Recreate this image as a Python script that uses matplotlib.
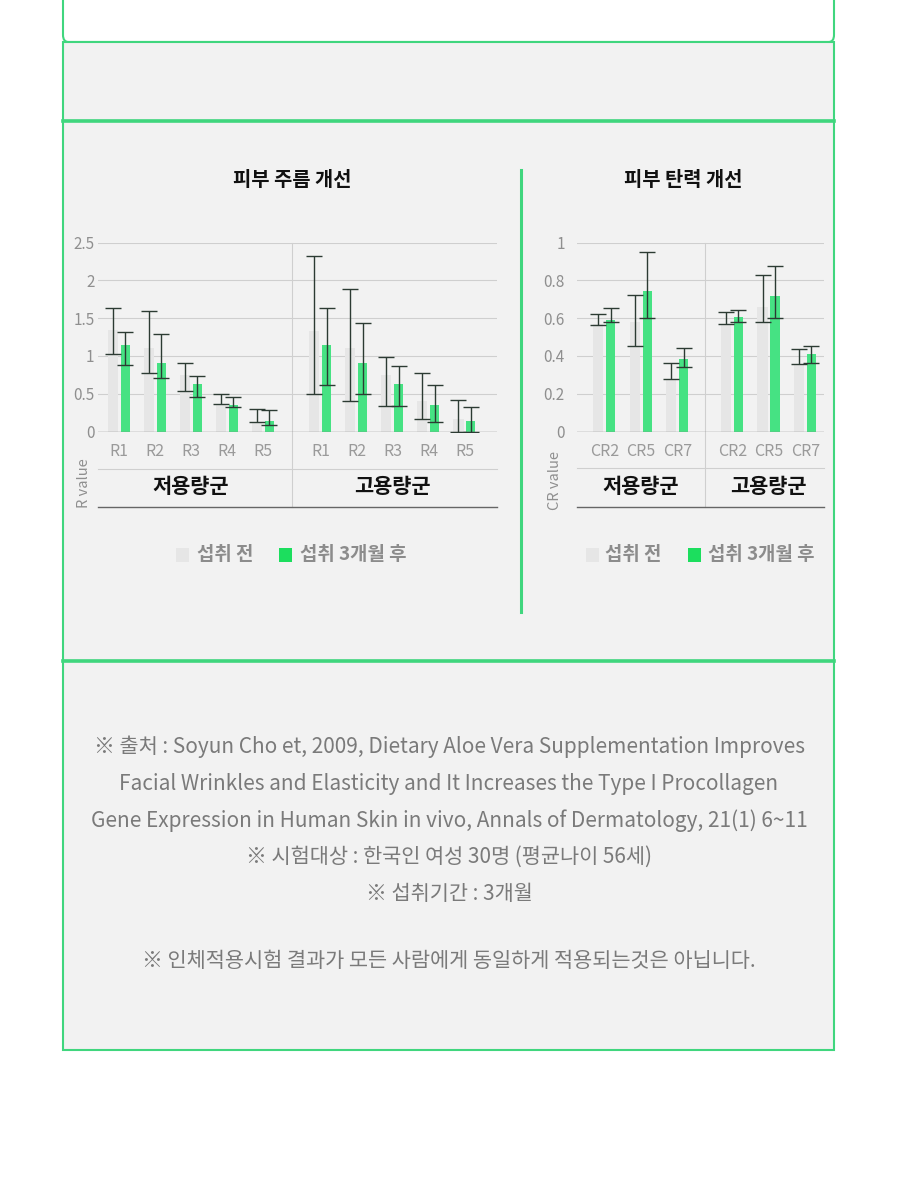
import matplotlib
matplotlib.use("Agg")
import matplotlib.pyplot as plt
from matplotlib.patches import Rectangle, FancyBboxPatch
from matplotlib.lines import Line2D
from matplotlib.transforms import blended_transform_factory
import numpy as np

plt.rcParams['font.family'] = ['Noto Sans CJK KR', 'DejaVu Sans']

# ---------------- data ----------------
wrinkle_cats = ['R1', 'R2', 'R3', 'R4', 'R5']
elastic_cats = ['CR2', 'CR5', 'CR7']
groups = ['저용량군', '고용량군']
legend_labels = ['섭취 전', '섭취 3개월 후']

# wrinkle (R value) - low dose
wr_low_before = [1.34, 1.10, 0.75, 0.37, 0.12]
wr_low_before_lo = [1.03, 0.78, 0.54, 0.36, 0.12]
wr_low_before_hi = [1.64, 1.59, 0.90, 0.50, 0.30]
wr_low_after = [1.15, 0.91, 0.63, 0.35, 0.14]
wr_low_after_lo = [0.88, 0.71, 0.45, 0.32, 0.08]
wr_low_after_hi = [1.32, 1.29, 0.74, 0.45, 0.28]
# wrinkle - high dose
wr_high_before = [1.33, 1.10, 0.75, 0.41, 0.17]
wr_high_before_lo = [0.50, 0.41, 0.34, 0.17, 0.00]
wr_high_before_hi = [2.32, 1.89, 0.99, 0.77, 0.42]
wr_high_after = [1.14, 0.90, 0.63, 0.35, 0.14]
wr_high_after_lo = [0.62, 0.50, 0.34, 0.13, 0.00]
wr_high_after_hi = [1.63, 1.43, 0.86, 0.61, 0.33]

# elasticity (CR value) - low dose
el_low_before = [0.57, 0.58, 0.28]
el_low_before_lo = [0.563, 0.45, 0.29]
el_low_before_hi = [0.62, 0.72, 0.365]
el_low_after = [0.59, 0.745, 0.385]
el_low_after_lo = [0.577, 0.598, 0.339]
el_low_after_hi = [0.656, 0.952, 0.443]
# elasticity - high dose
el_high_before = [0.57, 0.66, 0.355]
el_high_before_lo = [0.571, 0.582, 0.355]
el_high_before_hi = [0.63, 0.83, 0.437]
el_high_after = [0.607, 0.716, 0.409]
el_high_after_lo = [0.582, 0.603, 0.365]
el_high_after_hi = [0.644, 0.877, 0.455]

wr_yticks = [0, 0.5, 1, 1.5, 2, 2.5]
wr_yticklabels = ['0', '0.5', '1', '1.5', '2', '2.5']
el_yticks = [0, 0.2, 0.4, 0.6, 0.8, 1]
el_yticklabels = ['0', '0.2', '0.4', '0.6', '0.8', '1']

notes = [
    '※ 출처 : Soyun Cho et, 2009, Dietary Aloe Vera Supplementation Improves',
    'Facial Wrinkles and Elasticity and It Increases the Type I Procollagen',
    'Gene Expression in Human Skin in vivo, Annals of Dermatology, 21(1) 6~11',
    '※ 시험대상 : 한국인 여성 30명 (평균나이 56세)',
    '※ 섭취기간 : 3개월',
    '※ 인체적용시험 결과가 모든 사람에게 동일하게 적용되는것은 아닙니다.',
]

# ---------------- style ----------------
W, H = 900, 1183
GREEN_BORDER = '#40d67e'
BAR_GREEN = '#46e283'
LEG_GREEN = '#1cde5e'
BAR_GRAY = '#e6e6e6'
PANEL = '#f2f2f2'
ERR = '#2c3b33'
GRID = '#cfcfcf'
TICK = '#8f8f8f'

fig = plt.figure(figsize=(W / 100, H / 100), dpi=100)
fig.patch.set_facecolor('white')


def fx(x):
    return x / W


def fy(y):
    return 1 - y / H


def frect(x0, y0, x1, y1, **kw):
    r = Rectangle((fx(x0), fy(y1)), fx(x1) - fx(x0), fy(y0) - fy(y1),
                  transform=fig.transFigure, **kw)
    fig.add_artist(r)


def fline(x0, y0, x1, y1, **kw):
    fig.add_artist(Line2D([fx(x0), fx(x1)], [fy(y0), fy(y1)],
                          transform=fig.transFigure, **kw))


# panels
top = FancyBboxPatch((fx(63), fy(42)), fx(834) - fx(63), fy(-30) - fy(42),
                     boxstyle='round,pad=0,rounding_size=0.006', transform=fig.transFigure,
                     facecolor='white', edgecolor=GREEN_BORDER, lw=1.5, zorder=0)
fig.add_artist(top)
frect(63, 42, 834, 121, facecolor=PANEL, edgecolor=GREEN_BORDER, lw=1.5, zorder=0)
frect(63, 121, 834, 661, facecolor=PANEL, edgecolor=GREEN_BORDER, lw=1.5, zorder=0)
frect(63, 661, 834, 1050, facecolor=PANEL, edgecolor=GREEN_BORDER, lw=1.5, zorder=0)
fline(63, 121, 834, 121, color=GREEN_BORDER, lw=2.6)
fline(63, 661, 834, 661, color=GREEN_BORDER, lw=2.6)
# divider between charts
fline(521, 170, 521, 612, color=GREEN_BORDER, lw=2.2)


def draw_chart(ax, cats, pos_low, pos_high, data_low, data_high, xlim, ylim,
               yticks, yticklabels, ypad, divider_x, cat_y, mid_y, group_y, bottom_y):
    ax.set_facecolor('none')
    for s in ax.spines.values():
        s.set_visible(False)
    ax.set_xlim(*xlim)
    ax.set_ylim(*ylim)
    ax.set_yticks(yticks)
    ax.set_yticklabels(yticklabels)
    ax.tick_params(axis='y', length=0, pad=ypad, labelcolor=TICK, labelsize=11)
    ax.set_xticks([])
    for t in yticks[1:]:
        ax.axhline(t, color=GRID, lw=0.8, zorder=0)
    ax.axhline(0, color='#8a8a8a', lw=1.0, zorder=3)

    bw_g, bw_c, off = 0.28, 0.25, 0.17
    for positions, (before, blo, bhi, after, alo, ahi) in ((pos_low, data_low), (pos_high, data_high)):
        p = np.array(positions, dtype=float)
        before = np.array(before); after = np.array(after)
        ax.bar(p - off, before, width=bw_g, color=BAR_GRAY, zorder=1)
        ax.bar(p + off, after, width=bw_c, color=BAR_GREEN, zorder=2)
        eb = np.array([before - np.array(blo), np.array(bhi) - before])
        ea = np.array([after - np.array(alo), np.array(ahi) - after])
        ax.errorbar(p - off, before, yerr=np.clip(eb, 0, None), fmt='none', ecolor=ERR,
                    elinewidth=1, capsize=6, capthick=1, zorder=4)
        ax.errorbar(p + off, after, yerr=np.clip(ea, 0, None), fmt='none', ecolor=ERR,
                    elinewidth=1, capsize=6, capthick=1, zorder=4)
        for x, c in zip(p, cats):
            ax.text(x, cat_y, c, ha='center', va='center', fontsize=11.5, color='#9a9a9a')

    tr = blended_transform_factory(ax.transAxes, ax.transData)
    ax.plot([0, 1], [mid_y, mid_y], transform=tr, color=GRID, lw=0.8, clip_on=False)
    ax.plot([0, 1], [bottom_y, bottom_y], transform=tr, color='#666666', lw=1.0, clip_on=False)
    ax.plot([divider_x, divider_x], [bottom_y, ylim[1]], color=GRID, lw=0.8, clip_on=False, zorder=0)
    ax.text(np.mean(pos_low), group_y, groups[0], ha='center', va='center',
            fontsize=15, fontweight='bold', color='#111111')
    ax.text(np.mean(pos_high), group_y, groups[1], ha='center', va='center',
            fontsize=15, fontweight='bold', color='#111111')


# left chart: wrinkles
axL = fig.add_axes([fx(98), fy(431.5), fx(497) - fx(98), fy(242.5) - fy(431.5)])
draw_chart(axL, wrinkle_cats, [0, 1, 2, 3, 4], [5.6, 6.6, 7.6, 8.6, 9.6],
           (wr_low_before, wr_low_before_lo, wr_low_before_hi, wr_low_after, wr_low_after_lo, wr_low_after_hi),
           (wr_high_before, wr_high_before_lo, wr_high_before_hi, wr_high_after, wr_high_after_lo, wr_high_after_hi),
           (-0.58, 10.5), (0, 2.5), wr_yticks, wr_yticklabels, 2.5, 4.8,
           -0.26, -0.49, -0.73, -1.0)

# right chart: elasticity
axR = fig.add_axes([fx(576.5), fy(431.5), fx(823.5) - fx(576.5), fy(242.5) - fy(431.5)])
draw_chart(axR, elastic_cats, [0, 1, 2], [3.5, 4.5, 5.5],
           (el_low_before, el_low_before_lo, el_low_before_hi, el_low_after, el_low_after_lo, el_low_after_hi),
           (el_high_before, el_high_before_lo, el_high_before_hi, el_high_after, el_high_after_lo, el_high_after_hi),
           (-0.77, 6.0), (0, 1), el_yticks, el_yticklabels, 8.5, 2.75,
           -0.104, -0.195, -0.29, -0.4)

# titles
fig.text(fx(292), fy(180), '피부 주름 개선', ha='center', va='center', fontsize=14.3, fontweight='bold', color='#111111')
fig.text(fx(683), fy(180), '피부 탄력 개선', ha='center', va='center', fontsize=14.3, fontweight='bold', color='#111111')

# y-axis titles
fig.text(fx(84), fy(483), 'R value', rotation=90, ha='center', va='center', fontsize=10.5, color=TICK)
fig.text(fx(555), fy(481), 'CR value', rotation=90, ha='center', va='center', fontsize=10.5, color=TICK)

# legends
for gx, tx, cx, ctx in ((176, 197, 279, 300), (586, 605, 688, 708)):
    frect(gx, 548, gx + 13, 562, facecolor='#e6e6e6', edgecolor='none')
    fig.text(fx(tx), fy(555), legend_labels[0], ha='left', va='center', fontsize=13.6,
             fontweight='bold', color='#8c8c8c')
    frect(cx, 548, cx + 13, 562, facecolor=LEG_GREEN, edgecolor='none')
    fig.text(fx(ctx), fy(555), legend_labels[1], ha='left', va='center', fontsize=13.6,
             fontweight='bold', color='#8c8c8c')

# notes
for y, line in zip([747, 784, 821, 857, 894, 961], notes):
    fig.text(fx(449), fy(y), line, ha='center', va='center', fontsize=15, color='#7a7a7a')

fig.savefig('out.png', dpi=100, facecolor='white')
